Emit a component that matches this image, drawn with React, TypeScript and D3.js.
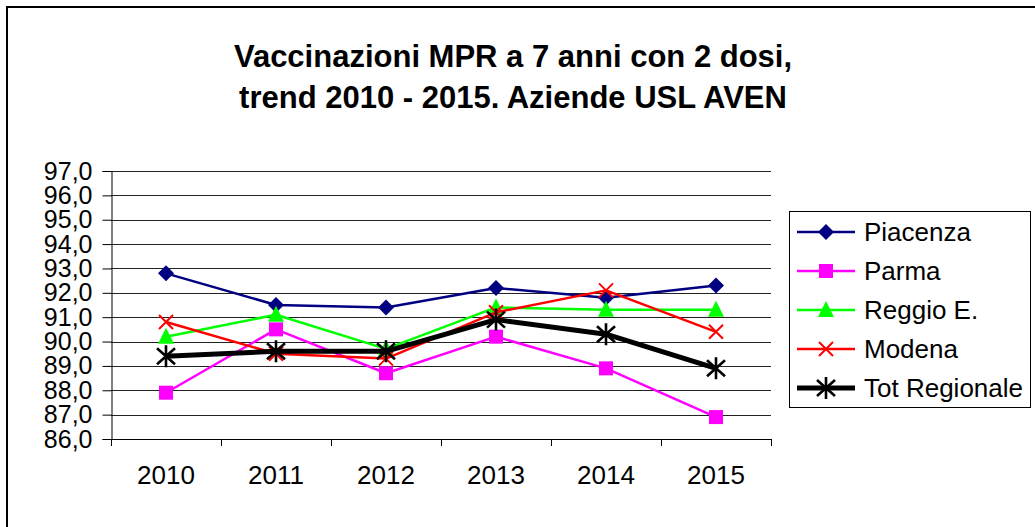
import React, { useEffect, useRef } from "react";
import * as d3 from "d3";

const years = ["2010", "2011", "2012", "2013", "2014", "2015"];
const piacenza = [92.8, 91.5, 91.4, 92.2, 91.8, 92.3];
const parma = [87.9, 90.5, 88.7, 90.2, 88.9, 86.9];
const reggio = [90.2, 91.1, 89.7, 91.4, 91.3, 91.3];
const modena = [90.8, 89.5, 89.3, 91.2, 92.1, 90.4];
const totRegionale = [89.4, 89.6, 89.6, 90.9, 90.3, 88.9];
const yTicks = [86, 87, 88, 89, 90, 91, 92, 93, 94, 95, 96, 97];

const series = [
  { name: "Piacenza", values: piacenza, color: "#000080", width: 2.5, marker: "diamond" },
  { name: "Parma", values: parma, color: "#FF00FF", width: 2.5, marker: "square" },
  { name: "Reggio E.", values: reggio, color: "#00FF00", width: 2.5, marker: "triangle" },
  { name: "Modena", values: modena, color: "#FF0000", width: 2.5, marker: "x" },
  { name: "Tot Regionale", values: totRegionale, color: "#000000", width: 5, marker: "star" },
];

function drawMarker(g: any, kind: string, cx: number, cy: number, color: string) {
  if (kind === "diamond") {
    g.append("path")
      .attr("d", `M${cx},${cy - 8}L${cx + 8},${cy}L${cx},${cy + 8}L${cx - 8},${cy}Z`)
      .attr("fill", color);
  } else if (kind === "square") {
    g.append("rect").attr("x", cx - 7).attr("y", cy - 7).attr("width", 14).attr("height", 14).attr("fill", color);
  } else if (kind === "triangle") {
    g.append("path")
      .attr("d", `M${cx},${cy - 9}L${cx + 8},${cy + 7}L${cx - 8},${cy + 7}Z`)
      .attr("fill", color);
  } else if (kind === "x") {
    g.append("path")
      .attr("d", `M${cx - 7},${cy - 7}L${cx + 7},${cy + 7}M${cx + 7},${cy - 7}L${cx - 7},${cy + 7}`)
      .attr("stroke", color).attr("stroke-width", 2).attr("fill", "none");
  } else {
    g.append("path")
      .attr("d", `M${cx - 9},${cy - 8}L${cx + 9},${cy + 8}M${cx + 9},${cy - 8}L${cx - 9},${cy + 8}M${cx},${cy - 11}L${cx},${cy + 11}`)
      .attr("stroke", color).attr("stroke-width", 2.6).attr("fill", "none");
  }
}

export default function App() {
  const svgRef = useRef<SVGSVGElement>(null);

  useEffect(() => {
    const svg = d3.select(svgRef.current);
    svg.selectAll("*").remove();

    const W = 1035, H = 527;
    const left = 111, right = 771, top = 171, bottom = 439;
    const font = "Arial, 'Liberation Sans', sans-serif";

    svg.append("rect").attr("x", 0).attr("y", 0).attr("width", W).attr("height", H).attr("fill", "#fff");
    // outer chart frame: only its left and top edges are inside the picture
    svg.append("path").attr("d", `M7,${H}V7H${W}`)
      .attr("fill", "none").attr("stroke", "#000").attr("stroke-width", 2);

    // title
    const title = svg.append("text").attr("text-anchor", "middle")
      .attr("font-family", font).attr("font-weight", "bold").attr("font-size", 31);
    title.append("tspan").attr("x", 513).attr("y", 67).text("Vaccinazioni MPR a 7 anni con 2 dosi,");
    title.append("tspan").attr("x", 513).attr("y", 108).text("trend 2010 - 2015. Aziende USL AVEN");

    const x = d3.scaleBand().domain(years).range([left, right]);
    const y = d3.scaleLinear().domain([86, 97]).range([bottom, top]);

    const g = svg.append("g");

    // gridlines
    g.selectAll(".grid").data(yTicks).enter().append("line")
      .attr("x1", left).attr("x2", right)
      .attr("y1", d => Math.round(y(d)) + 0.5).attr("y2", d => Math.round(y(d)) + 0.5)
      .attr("stroke", "#222").attr("stroke-width", 1);

    // y axis
    const yAxis = g.append("g").attr("transform", `translate(${left + 0.5},0)`)
      .call(d3.axisLeft(y).tickValues(yTicks).tickSize(9).tickPadding(10)
        .tickFormat(d => d3.format(".1f")(d as number).replace(".", ",")));
    yAxis.select(".domain").attr("stroke", "#000");
    yAxis.selectAll("text").attr("font-family", font).attr("font-size", 25).attr("fill", "#000");

    // x axis
    g.append("line").attr("x1", left).attr("x2", right)
      .attr("y1", bottom + 0.5).attr("y2", bottom + 0.5).attr("stroke", "#000");
    const bounds = years.map(yr => x(yr) as number).concat([right]);
    g.selectAll(".xt").data(bounds).enter().append("line")
      .attr("x1", d => Math.round(d) + 0.5).attr("x2", d => Math.round(d) + 0.5)
      .attr("y1", bottom).attr("y2", bottom + 7).attr("stroke", "#000");
    g.selectAll(".xl").data(years).enter().append("text")
      .attr("x", d => (x(d) as number) + x.bandwidth() / 2)
      .attr("y", 484).attr("text-anchor", "middle")
      .attr("font-family", font).attr("font-size", 26).text(d => d);

    const cx = (i: number) => (x(years[i]) as number) + x.bandwidth() / 2;
    const line = d3.line<number>().x((_, i) => cx(i)).y(d => y(d));

    series.forEach(s => {
      g.append("path").datum(s.values).attr("d", line)
        .attr("fill", "none").attr("stroke", s.color).attr("stroke-width", s.width)
        .attr("stroke-linejoin", "round");
      s.values.forEach((v, i) => drawMarker(g, s.marker, cx(i), y(v), s.color));
    });

    // legend
    const lg = svg.append("g");
    lg.append("rect").attr("x", 789.5).attr("y", 211.5).attr("width", 241).attr("height", 196)
      .attr("fill", "#fff").attr("stroke", "#000");
    series.forEach((s, i) => {
      const ly = 232 + i * 39;
      lg.append("line").attr("x1", 797).attr("x2", 855).attr("y1", ly).attr("y2", ly)
        .attr("stroke", s.color).attr("stroke-width", s.width);
      drawMarker(lg, s.marker, 826, ly, s.color);
      lg.append("text").attr("x", 864).attr("y", ly + 9).attr("font-family", font)
        .attr("font-size", 26).text(s.name);
    });
  }, []);

  return (
    <svg ref={svgRef} width={1035} height={527}
      style={{ display: "block", position: "absolute", left: 0, top: 0 }} />
  );
}
